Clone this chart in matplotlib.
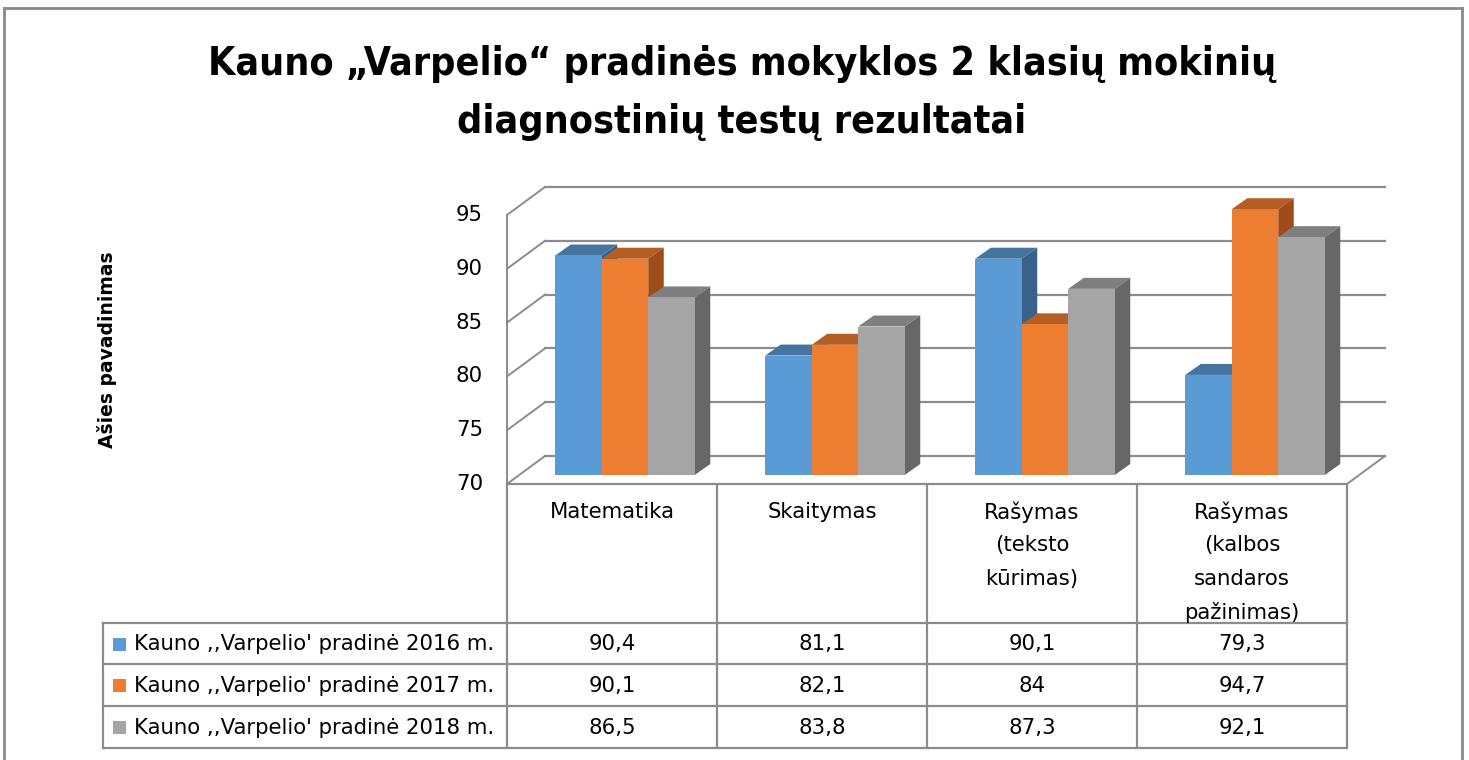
import matplotlib
matplotlib.use("Agg")
import matplotlib.pyplot as plt
from matplotlib import font_manager
from matplotlib.patches import Polygon

TITLE_LINES = ["Kauno „Varpelio“ pradinės mokyklos 2 klasių mokinių", "diagnostinių testų rezultatai"]
Y_LABEL = "Ašies pavadinimas"
CATEGORIES = ["Matematika", "Skaitymas", "Rašymas\n(teksto\nkūrimas)", "Rašymas\n(kalbos\nsandaros\npažinimas)"]
SERIES = [
    "Kauno ,,Varpelio' pradinė 2016 m.",
    "Kauno ,,Varpelio' pradinė 2017 m.",
    "Kauno ,,Varpelio' pradinė 2018 m.",
]
VALUES_2016 = [90.4, 81.1, 90.1, 79.3]
VALUES_2017 = [90.1, 82.1, 84, 94.7]
VALUES_2018 = [86.5, 83.8, 87.3, 92.1]
Y_TICKS = [70, 75, 80, 85, 90, 95]

FRONT = ["#5B9BD5", "#ED7D31", "#A5A5A5"]
TOP = ["#4674A1", "#B55D22", "#7F7F7F"]
SIDE = ["#3A6189", "#A04C18", "#676767"]
LINE = "#8C8C8C"

W, H = 1469, 760
FS = 15.3


def _title_font() -> dict:
    # narrow bold face if one is around, else plain DejaVu bold
    for fam, stretch in [("Liberation Sans Narrow", "normal"), ("DejaVu Sans", "condensed")]:
        prop = font_manager.FontProperties(family=fam, weight="bold", stretch=stretch)
        try:
            path = font_manager.findfont(prop, fallback_to_default=False)
        except ValueError:
            continue
        if "Narrow" in path or "Condensed" in path:
            return {"family": fam, "fontstretch": stretch}
    return {"family": "DejaVu Sans"}


fig = plt.figure(figsize=(W / 100, H / 100), dpi=100)
fig.patch.set_facecolor("white")

# overlay in pixel coordinates for frame + table
ov = fig.add_axes([0, 0, 1, 1])
ov.set_xlim(0, W)
ov.set_ylim(H, 0)
ov.axis("off")

# chart area (front plane): x = category index, y = value
ax_left, ax_right, ax_top, ax_bottom = 507, 1347, 215, 484
ax = fig.add_axes([ax_left / W, 1 - ax_bottom / H, (ax_right - ax_left) / W, (ax_bottom - ax_top) / H])
ax.set_xlim(-0.5, len(CATEGORIES) - 0.5)
ax.set_ylim(Y_TICKS[0], Y_TICKS[-1])
ax.axis("off")

sx = (ax_right - ax_left) / len(CATEGORIES)
sy = (ax_bottom - ax_top) / (Y_TICKS[-1] - Y_TICKS[0])
DX, DY = 38 / sx, 28 / sy      # full depth of the 3d box
BX, BY = 13 / sx, 9 / sy       # bars sit this far into the box
bx, by = 15.5 / sx, 11 / sy    # depth of one bar
bw = 46.5 / sx

x_lo, x_hi = -0.5, len(CATEGORIES) - 0.5
ymin = Y_TICKS[0]

# back wall, left wall, floor
for v in Y_TICKS:
    ax.plot([x_lo + DX, x_hi + DX], [v + DY, v + DY], color=LINE, lw=1.6, clip_on=False, zorder=1)
    ax.plot([x_lo, x_lo + DX], [v, v + DY], color=LINE, lw=1.4, clip_on=False, zorder=1)
    ax.text(x_lo - 24 / sx, v, str(v), ha="right", va="center", fontsize=FS, color="black")
ax.plot([x_lo, x_lo], [Y_TICKS[0], Y_TICKS[-1]], color=LINE, lw=1.4, clip_on=False, zorder=1)
ax.plot([x_hi, x_hi + DX], [ymin, ymin + DY], color=LINE, lw=1.4, clip_on=False, zorder=1)
ax.plot([x_lo, x_hi], [ymin, ymin], color=LINE, lw=1.6, clip_on=False, zorder=1)

series_vals = [VALUES_2016, VALUES_2017, VALUES_2018]
for k, vals in enumerate(series_vals):
    xs = [i + BX + (k - 1) * bw for i in range(len(CATEGORIES))]
    z = 3 + k
    ax.bar(xs, [v - ymin for v in vals], width=bw, bottom=ymin + BY, color=FRONT[k],
           linewidth=0, zorder=z + 0.5, clip_on=False)
    for xc, v in zip(xs, vals):
        x0, x1 = xc - bw / 2, xc + bw / 2
        y0, y1 = ymin + BY, v + BY
        ax.add_patch(Polygon([(x0, y1), (x1, y1), (x1 + bx, y1 + by), (x0 + bx, y1 + by)],
                             closed=True, facecolor=TOP[k], edgecolor="none", zorder=z, clip_on=False))
        ax.add_patch(Polygon([(x1, y0), (x1, y1), (x1 + bx, y1 + by), (x1 + bx, y0 + by)],
                             closed=True, facecolor=SIDE[k], edgecolor="none", zorder=z, clip_on=False))

# data table
col_edges = [ax_left + sx * j for j in range(len(CATEGORIES) + 1)]
tab_left = 103
head_top, head_bot = 486, 623
row_edges = [623, 664, 706, 748]
for xe in col_edges:
    ov.plot([xe, xe], [head_top, row_edges[-1]], color=LINE, lw=1.6)
ov.plot([tab_left, tab_left], [head_bot, row_edges[-1]], color=LINE, lw=1.6)
for ye in row_edges:
    ov.plot([tab_left, col_edges[-1]], [ye, ye], color=LINE, lw=1.6)

for j, cat in enumerate(CATEGORIES):
    xc = (col_edges[j] + col_edges[j + 1]) / 2
    for n, part in enumerate(cat.split("\n")):
        ov.text(xc, 512 + 33.5 * n, part, ha="center", va="center", fontsize=FS)

for k, (name, vals) in enumerate(zip(SERIES, series_vals)):
    yc = (row_edges[k] + row_edges[k + 1]) / 2 + 1
    ov.add_patch(plt.Rectangle((113, yc - 7), 13, 13, facecolor=FRONT[k], edgecolor="none"))
    ov.text(134, yc, name, ha="left", va="center", fontsize=FS)
    for j, v in enumerate(vals):
        xc = (col_edges[j] + col_edges[j + 1]) / 2
        ov.text(xc, yc, f"{v:g}".replace(".", ","), ha="center", va="center", fontsize=FS)

# outer frame
ov.plot([4, 4], [8, H + 5], color="#8A8A8A", lw=2, clip_on=False)
ov.plot([4, 1462], [8, 8], color="#8A8A8A", lw=2, clip_on=False)
ov.plot([1462, 1462], [8, H + 5], color="#8A8A8A", lw=2, clip_on=False)

# title: fit first line to the width it has in the original (~1065 px)
tfont = _title_font()
title_texts = [
    ov.text(742, 64 + 58 * n, line, ha="center", va="center", fontsize=30, fontweight="bold", **tfont)
    for n, line in enumerate(TITLE_LINES)
]
fig.canvas.draw()
w0 = title_texts[0].get_window_extent().width
for t in title_texts:
    t.set_fontsize(min(34, 30 * 1065 / w0))

ov.text(107, 350, Y_LABEL, ha="center", va="center", rotation=90, fontsize=13.5, fontweight="bold")

fig.savefig("out.png", dpi=100, facecolor="white")
